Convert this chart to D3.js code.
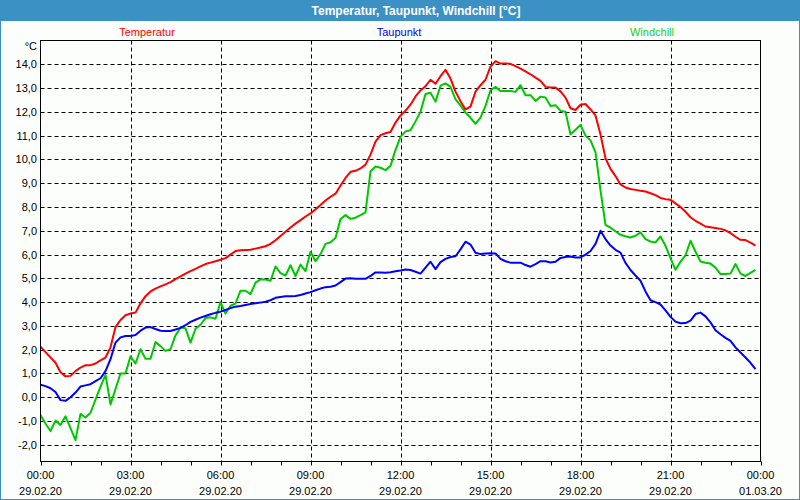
<!DOCTYPE html>
<html>
<head>
<meta charset="utf-8">
<script src="https://cdn.jsdelivr.net/npm/d3@7"></script>
<style>
  html, body { margin: 0; padding: 0; background: #ffffff; }
  svg { display: block; }
</style>
</head>
<body>
<svg id="chart" width="800" height="500"></svg>
<script>
// ---------- DATA ----------
const chartTitle = "Temperatur, Taupunkt, Windchill [°C]";
const seriesNames = ["Temperatur", "Taupunkt", "Windchill"];
const startTime = Date.UTC(2020, 1, 29, 0, 0);   // 29.02.20 00:00
const endTime = Date.UTC(2020, 2, 1, 0, 0);      // 01.03.20 00:00
const stepMinutes = 10;
const yTickValues = [-2, -1, 0, 1, 2, 3, 4, 5, 6, 7, 8, 9, 10, 11, 12, 13, 14];
const yUnit = "°C";

const temperatur = [
  2.13, 1.9, 1.68, 1.45, 1.05, 0.88, 0.9, 1.1, 1.25, 1.35,
  1.35, 1.42, 1.55, 1.67, 2.1, 2.95, 3.25, 3.45, 3.52, 3.56,
  3.95, 4.25, 4.45, 4.57, 4.66, 4.75, 4.84, 4.97, 5.08, 5.2,
  5.3, 5.4, 5.5, 5.6, 5.66, 5.72, 5.78, 5.85, 6.0, 6.15,
  6.18, 6.19, 6.2, 6.25, 6.3, 6.35, 6.45, 6.6, 6.78, 6.96,
  7.14, 7.3, 7.45, 7.6, 7.73, 7.9, 8.08, 8.27, 8.43, 8.56,
  8.9, 9.22, 9.48, 9.52, 9.62, 9.78, 10.2, 10.75, 11.02, 11.1,
  11.15, 11.55, 11.85, 12.05, 12.3, 12.65, 12.9, 13.08, 13.35, 13.18,
  13.5, 13.77, 13.4, 12.85, 12.45, 12.1, 12.22, 12.85, 13.12, 13.35,
  13.9, 14.13, 14.03, 14.03, 14.02, 13.92, 13.82, 13.7, 13.58, 13.44,
  13.3, 13.05, 13.02, 13.02, 12.86, 12.6, 12.15, 12.08, 12.3, 12.33,
  12.1, 11.85, 11.05, 10.05, 9.6, 9.3, 8.95, 8.82, 8.76, 8.72,
  8.68, 8.65, 8.58, 8.5, 8.38, 8.33, 8.3, 8.15, 8.0, 7.8,
  7.57, 7.42, 7.3, 7.18, 7.15, 7.12, 7.08, 7.02, 6.9, 6.75,
  6.62, 6.61, 6.5, 6.38
];
const taupunkt = [
  0.53, 0.47, 0.38, 0.22, -0.12, -0.15, 0.0, 0.2, 0.45, 0.5,
  0.55, 0.68, 0.8, 1.1, 1.6, 2.3, 2.52, 2.58, 2.58, 2.62,
  2.8, 2.93, 2.95, 2.87, 2.8, 2.79, 2.79, 2.85, 2.92, 3.03,
  3.17, 3.26, 3.35, 3.42, 3.49, 3.55, 3.6, 3.67, 3.75, 3.81,
  3.84, 3.88, 3.92, 3.95, 3.98, 4.02, 4.08, 4.18, 4.22, 4.25,
  4.25, 4.26, 4.3, 4.36, 4.42, 4.5, 4.57, 4.63, 4.65, 4.7,
  4.84, 4.99, 5.0, 4.98, 4.98, 4.98, 5.1, 5.25, 5.25, 5.24,
  5.26, 5.3, 5.33, 5.37, 5.35, 5.28, 5.2, 5.45, 5.7, 5.39,
  5.68, 5.82, 5.9, 5.93, 6.22, 6.54, 6.42, 6.08, 6.02, 6.04,
  6.06, 6.05, 5.82, 5.72, 5.66, 5.66, 5.66, 5.56, 5.49, 5.6,
  5.72, 5.72, 5.67, 5.7, 5.86, 5.9, 5.92, 5.88, 5.88, 6.0,
  6.15, 6.45, 7.0, 6.65, 6.38, 6.2, 6.08, 5.65, 5.35, 5.12,
  4.9, 4.45, 4.08, 4.0, 3.9, 3.65, 3.38, 3.18, 3.11, 3.12,
  3.22, 3.5, 3.56, 3.4, 3.15, 2.82, 2.65, 2.5, 2.37, 2.1,
  1.88, 1.67, 1.45, 1.18
];
const windchill = [
  -0.75, -1.1, -1.42, -0.98, -1.17, -0.8, -1.3, -1.8, -0.7, -0.85,
  -0.65, -0.1, 0.45, 0.94, -0.3, 0.35, 1.0, 1.0, 1.72, 1.42,
  2.02, 1.62, 1.62, 2.32, 2.15, 1.95, 2.02, 2.6, 2.93, 2.9,
  2.3, 2.88, 3.05, 3.33, 3.36, 3.3, 4.0, 3.52, 3.85, 3.94,
  4.48, 4.48, 4.34, 4.82, 4.96, 4.95, 4.9, 5.5, 5.22, 5.12,
  5.55, 5.1, 5.58, 5.3, 6.12, 5.72, 6.02, 6.45, 6.52, 6.7,
  7.49, 7.66, 7.5, 7.55, 7.66, 7.77, 9.5, 9.7, 9.65, 9.55,
  9.73, 10.4, 10.95, 11.18, 11.23, 11.6, 12.0, 12.75, 12.8, 12.43,
  13.1, 13.2, 13.05, 12.53, 12.27, 11.97, 11.75, 11.5, 11.76, 12.25,
  12.91, 13.05, 12.88, 12.88, 12.88, 12.84, 13.12, 12.7, 12.7, 12.46,
  12.64, 12.6, 12.25, 12.28, 12.04, 12.0, 11.06, 11.25, 11.45, 11.0,
  10.8, 10.3, 8.7, 7.25, 7.13, 6.98, 6.83, 6.77, 6.72, 6.79,
  6.93, 6.65, 6.55, 6.51, 6.76, 6.37, 5.85, 5.36, 5.7, 5.97,
  6.58, 6.12, 5.71, 5.66, 5.62, 5.45, 5.18, 5.18, 5.2, 5.6,
  5.2, 5.1, 5.23, 5.36
];

// ---------- LAYOUT / STYLE ----------
const W = 800, H = 500;
const plot = { left: 40.5, right: 760.5, top: 40.5, bottom: 461.5 };
const colors = { Temperatur: "#ff0000", Taupunkt: "#0000ff", Windchill: "#00c800" };
const legendColors = { Temperatur: "#ff0000", Taupunkt: "#0000ff", Windchill: "#22cc22" };
const frameBlue = "#3c91c4";
const font = "'Liberation Sans', Arial, sans-serif";

const svg = d3.select("#chart");

// window background + border
svg.append("rect").attr("x", 0).attr("y", 0).attr("width", W).attr("height", H).attr("fill", frameBlue);
svg.append("rect").attr("x", 1).attr("y", 21).attr("width", W - 2).attr("height", H - 22).attr("fill", "#fcfefc");

// title
svg.append("text")
  .attr("x", 416).attr("y", 15)
  .attr("text-anchor", "middle")
  .attr("font-family", font).attr("font-size", 12).attr("font-weight", "bold")
  .attr("fill", "#ffffff")
  .text(chartTitle);

// scales
const times = d3.range(temperatur.length).map(i => new Date(startTime + i * stepMinutes * 60000));
const x = d3.scaleUtc().domain([new Date(startTime), new Date(endTime)]).range([plot.left, plot.right]);
const y = d3.scaleLinear().domain([-2.7, 15]).range([plot.bottom, plot.top]);

// horizontal grid
const g = svg.append("g");
g.selectAll("line.hgrid").data(yTickValues).enter().append("line")
  .attr("x1", plot.left).attr("x2", plot.right)
  .attr("y1", d => Math.round(y(d)) + 0.5).attr("y2", d => Math.round(y(d)) + 0.5)
  .attr("stroke", "#000").attr("stroke-width", 1).attr("stroke-dasharray", "4,3");

// vertical grid (every 3 hours)
const majorTicks = d3.utcHour.every(3).range(new Date(startTime), new Date(endTime + 1));
const innerMajor = majorTicks.filter(t => +t > startTime && +t < endTime);
g.selectAll("line.vgrid").data(innerMajor).enter().append("line")
  .attr("x1", d => Math.round(x(d)) + 0.5).attr("x2", d => Math.round(x(d)) + 0.5)
  .attr("y1", plot.top).attr("y2", plot.bottom)
  .attr("stroke", "#000").attr("stroke-width", 1).attr("stroke-dasharray", "4,3");

// x axis ticks (hourly)
const hourTicks = d3.utcHour.every(1).range(new Date(startTime), new Date(endTime + 1));
g.selectAll("line.xtick").data(hourTicks).enter().append("line")
  .attr("x1", d => Math.round(x(d)) + 0.5).attr("x2", d => Math.round(x(d)) + 0.5)
  .attr("y1", plot.bottom).attr("y2", plot.bottom + 4)
  .attr("stroke", "#000").attr("stroke-width", 1);

// x labels
const fmtTime = d3.utcFormat("%H:%M");
const fmtDate = d3.utcFormat("%d.%m.%y");
const xl = g.selectAll("text.xl").data(majorTicks).enter().append("text")
  .attr("text-anchor", "middle")
  .attr("font-family", font).attr("font-size", 11).attr("fill", "#000");
xl.append("tspan").attr("x", d => x(d)).attr("y", 479).text(d => fmtTime(d));
xl.append("tspan").attr("x", d => x(d)).attr("y", 495).text(d => fmtDate(d));

// y labels
g.selectAll("text.yl").data(yTickValues).enter().append("text")
  .attr("x", 37).attr("y", d => y(d) + 4)
  .attr("text-anchor", "end")
  .attr("font-family", font).attr("font-size", 11).attr("fill", "#000")
  .text(d => d3.format(".1f")(d).replace(".", ",").replace("−", "-"));

svg.append("text").attr("x", 37).attr("y", 50).attr("text-anchor", "end")
  .attr("font-family", font).attr("font-size", 11).attr("fill", "#000").text(yUnit);

// legend
const legendX = { Temperatur: 147, Taupunkt: 399, Windchill: 652 };
seriesNames.forEach(n => {
  svg.append("text").attr("x", legendX[n]).attr("y", 36)
    .attr("text-anchor", "middle")
    .attr("font-family", font).attr("font-size", 11)
    .attr("fill", legendColors[n]).text(n);
});

// lines
const seriesData = { Temperatur: temperatur, Taupunkt: taupunkt, Windchill: windchill };
const line = d3.line().x((d, i) => x(times[i])).y(d => y(d));
svg.append("defs").append("clipPath").attr("id", "clip")
  .append("rect").attr("x", plot.left).attr("y", plot.top)
  .attr("width", plot.right - plot.left).attr("height", plot.bottom - plot.top);
["Windchill", "Taupunkt", "Temperatur"].forEach(n => {
  svg.append("path")
    .attr("clip-path", "url(#clip)")
    .attr("d", line(seriesData[n]))
    .attr("fill", "none").attr("stroke", colors[n]).attr("stroke-width", 2)
    .attr("stroke-linejoin", "round");
});

// frame
svg.append("rect")
  .attr("x", plot.left).attr("y", plot.top)
  .attr("width", plot.right - plot.left).attr("height", plot.bottom - plot.top)
  .attr("fill", "none").attr("stroke", "#000").attr("stroke-width", 1);
</script>
</body>
</html>
